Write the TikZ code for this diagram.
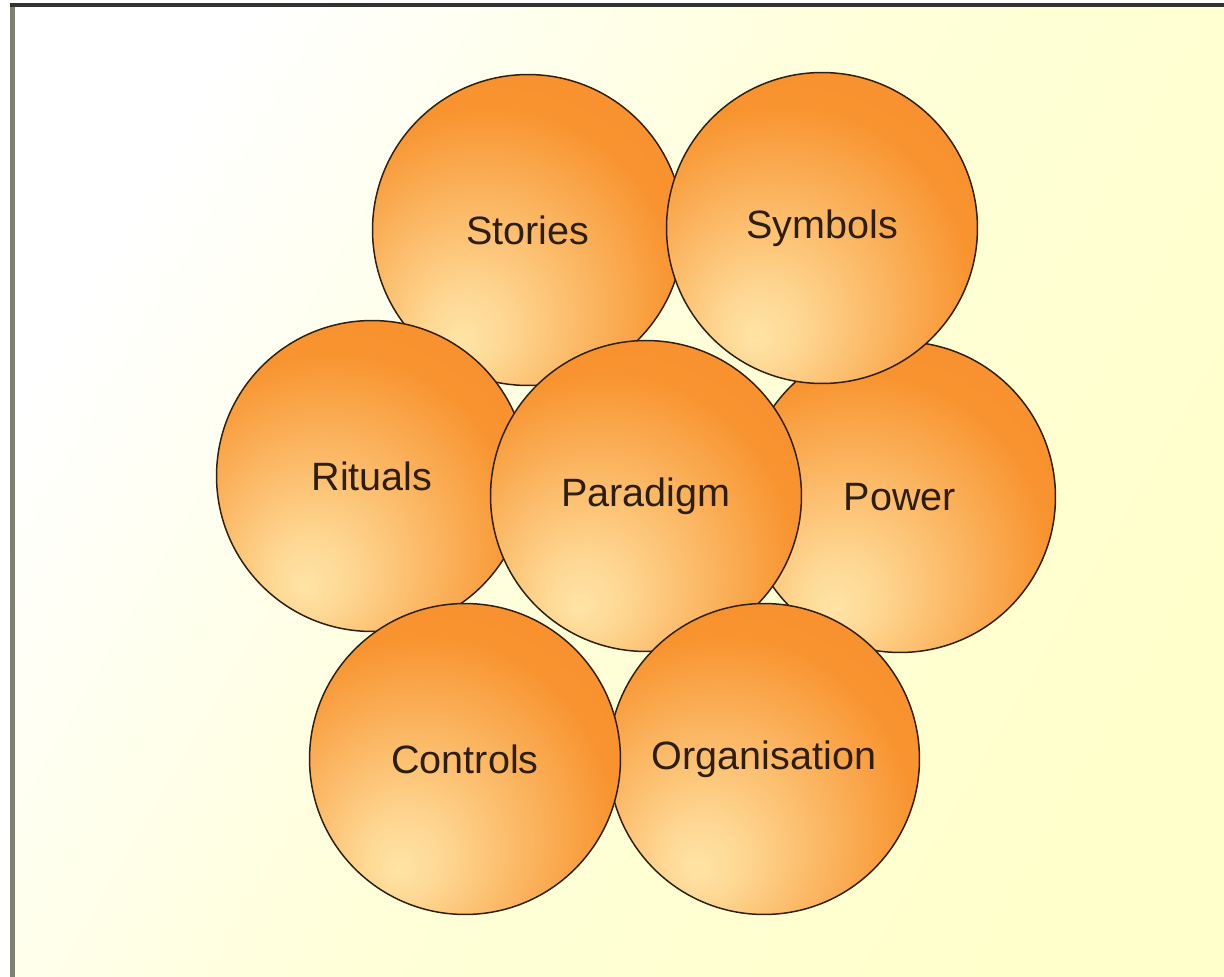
\documentclass[tikz,border=0pt]{standalone}
\usepackage{fontspec}
\setmainfont{Liberation Sans}
\definecolor{paleyellow}{RGB}{255,255,204}
\definecolor{bubbleorange}{RGB}{248,148,48}
\definecolor{bubblepale}{RGB}{255,228,166}
\definecolor{bubbletext}{RGB}{45,30,15}
\pgfdeclareradialshading{bubbleglow}{\pgfpoint{-11bp}{-18bp}}{%
	color(0bp)=(bubblepale);
	color(6bp)=(bubblepale!85!bubbleorange);
	color(30bp)=(bubbleorange);
	color(45bp)=(bubbleorange!94!red);
	color(70bp)=(bubbleorange!94!red)}
\begin{document}
\begin{tikzpicture}[x=0.02cm,y=-0.02cm,
		bubble/.style={circle,draw=black!75!brown,line width=0.85pt,minimum size=6.22cm,
			shading=bubbleglow,text=bubbletext,font=\fontsize{22.5}{27}\selectfont}]
			\useasboundingbox (0,0) rectangle (1224,977);
			\fill[top color=white,bottom color=paleyellow,middle color=paleyellow!75!white,shading angle=60] (12,5) rectangle (1224,977);
			\draw[line width=2.4pt,color={rgb,255:red,128;green,128;blue,112}] (12.5,5) -- (12.5,977);
			\draw[line width=1.8pt,color=black!80] (10,5) -- (1224,5);

			\node[bubble] at (528,230) (stories) {Stories};
			\node[bubble] at (372,476) (rituals) {Rituals};
			\node[bubble] at (900,497) (power) {Power};
			\node[bubble] at (822,228) (symbols) {Symbols};
			\node[bubble] at (646,496) (paradigm) {Paradigm};
			\node[bubble] at (764,759) (organisation) {Organisation};
			\node[bubble] at (465,759) (controls) {Controls};
		\end{tikzpicture}
\end{document}
